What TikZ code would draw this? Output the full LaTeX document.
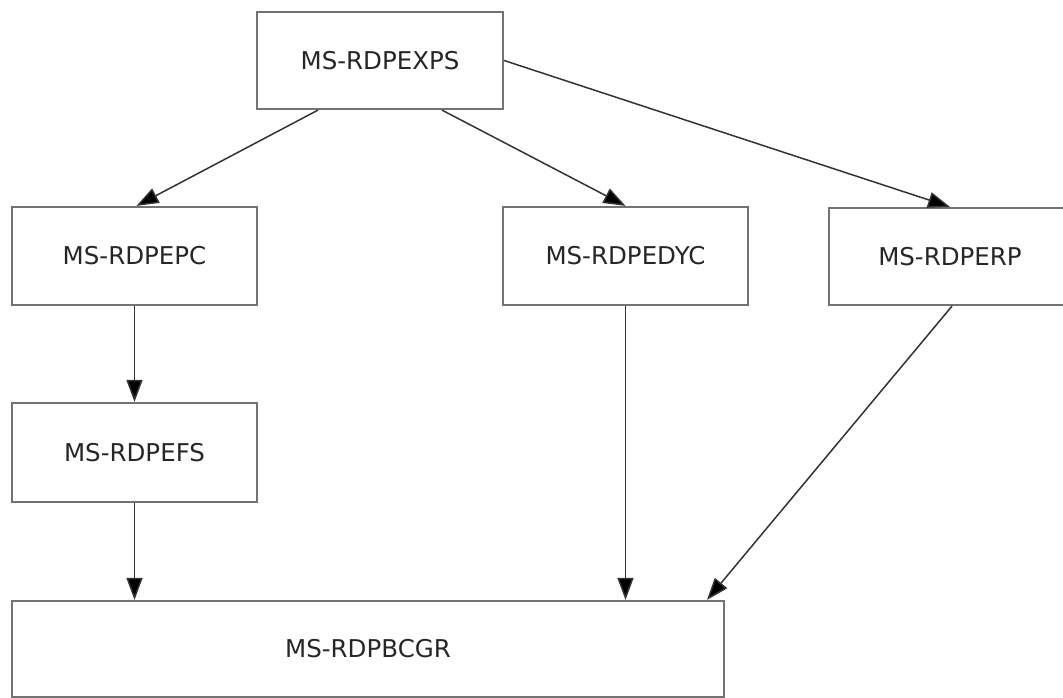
\documentclass[tikz,border=0pt]{standalone}
\usepackage{fontspec}
\setmainfont{DejaVu Sans}
\usetikzlibrary{arrows.meta}
\tikzset{
  box/.style={draw=black!55, line width=2.2pt, rectangle, inner sep=0pt,
    text=black!85, font=\fontsize{24.5}{30}\selectfont},
  conn/.style={draw=black!80, line width=1.5pt,
    -{Triangle[length=22pt,width=16pt,fill=black]}}
}
\begin{document}
\begin{tikzpicture}[x=1pt,y=-1pt]
\useasboundingbox (0,0) rectangle (1063,698);
\clip (0,0) rectangle (1063,698);
\node[box, minimum width=246pt, minimum height=97pt] (exps) at (380,60.5) {MS-RDPEXPS};
\node[box, minimum width=245pt, minimum height=98pt] (epc) at (134.5,256) {MS-RDPEPC};
\node[box, minimum width=245pt, minimum height=98pt] (edyc) at (625.5,256) {MS-RDPEDYC};
\node[box, minimum width=242pt, minimum height=97pt] (erp) at (950,256.5) {MS-RDPERP};
\node[box, minimum width=245pt, minimum height=99pt] (efs) at (134.5,452.5) {MS-RDPEFS};
\node[box, minimum width=712pt, minimum height=96pt] (bcgr) at (368,649) {MS-RDPBCGR};

\draw[conn] ([xshift=-62pt]exps.south) -- ([xshift=2pt]epc.north);
\draw[conn] ([xshift=62pt]exps.south) -- (edyc.north);
\draw[conn] (exps.east) -- (erp.north);
\draw[conn] (epc.south) -- (efs.north);
\draw[conn] (efs.south) -- (efs.south |- bcgr.north);
\draw[conn] (edyc.south) -- (edyc.south |- bcgr.north);
\draw[conn] ([xshift=2pt]erp.south) -- ([xshift=339pt]bcgr.north);
\end{tikzpicture}
\end{document}
